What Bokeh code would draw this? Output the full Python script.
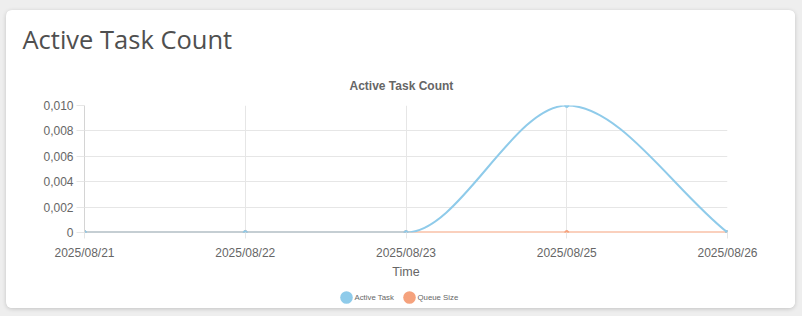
from bokeh.plotting import figure
from bokeh.models import (ColumnDataSource, FixedTicker, Range1d, Title)
from bokeh.layouts import column
from bokeh.embed import file_html
from bokeh.resources import INLINE

# ---- data ----
dates = ["2025/08/21", "2025/08/22", "2025/08/23", "2025/08/25", "2025/08/26"]
active_task = [0, 0, 0, 0.01, 0]
queue_size = [0, 0, 0, 0, 0]
y_ticks = [0, 0.002, 0.004, 0.006, 0.008, 0.010]
y_tick_labels = ["0", "0,002", "0,004", "0,006", "0,008", "0,010"]
page_title = "Active Task Count"
chart_title = "Active Task Count"
x_title = "Time"
series_names = ["Active Task", "Queue Size"]
colors = ["#8fcbea", "#f5a27d"]

FONT = "Liberation Sans"
GRID = "#e6e6e6"
TXT = "#666666"


def monotone_segments(ys):
    """Bezier control points for a monotone cubic curve (chart.js style)."""
    xs = list(range(len(ys)))
    n = len(ys)
    d = [(ys[i + 1] - ys[i]) / (xs[i + 1] - xs[i]) for i in range(n - 1)]
    m = [0.0] * n
    m[0] = d[0]
    m[-1] = d[-1]
    for i in range(1, n - 1):
        m[i] = 0.0 if d[i - 1] * d[i] <= 0 else (d[i - 1] + d[i]) / 2
    for i in range(n - 1):
        if d[i] == 0:
            m[i] = 0.0
            m[i + 1] = 0.0
            continue
        a = m[i] / d[i]
        b = m[i + 1] / d[i]
        s = a * a + b * b
        if s > 9:
            t = 3 / s ** 0.5
            m[i] = a * t * d[i]
            m[i + 1] = b * t * d[i]
    seg = dict(x0=[], y0=[], x1=[], y1=[], cx0=[], cy0=[], cx1=[], cy1=[])
    for i in range(n - 1):
        dx = (xs[i + 1] - xs[i]) / 3
        seg["x0"].append(xs[i]); seg["y0"].append(ys[i])
        seg["x1"].append(xs[i + 1]); seg["y1"].append(ys[i + 1])
        seg["cx0"].append(xs[i] + dx); seg["cy0"].append(ys[i] + m[i] * dx)
        seg["cx1"].append(xs[i + 1] - dx); seg["cy1"].append(ys[i + 1] - m[i + 1] * dx)
    return seg


W = 789
LEG_H = 26
H = 298 - LEG_H
BL, BR = 78, 68
p = figure(width=W, height=H, output_backend="svg", toolbar_location=None, title=None,
           x_range=Range1d(0, len(dates) - 1), y_range=Range1d(0, 0.010),
           min_border_left=BL, min_border_right=BR, min_border_top=95, min_border_bottom=H - 222,
           background_fill_color="white", border_fill_color="white", outline_line_color=None)

# titles (first added sits nearest the plot)
p.add_layout(Title(text=chart_title, text_font=FONT, text_font_size="12px", text_font_style="bold",
                   text_color=TXT, align="left", offset=265, standoff=25), "above")
p.add_layout(Title(text=page_title, text_font="Open Sans", text_font_size="25.5px",
                   text_font_style="normal", text_color="#4f4f4f", align="left",
                   offset=-62, standoff=18), "above")

# axes
p.xaxis.ticker = FixedTicker(ticks=list(range(len(dates))))
p.xaxis.major_label_overrides = {i: d for i, d in enumerate(dates)}
p.yaxis.ticker = FixedTicker(ticks=y_ticks)
p.yaxis.major_label_overrides = {t: l for t, l in zip(y_ticks, y_tick_labels)}
for ax in (p.xaxis[0], p.yaxis[0]):
    ax.major_label_text_font = FONT
    ax.major_label_text_font_size = "12px"
    ax.major_label_text_color = TXT
    ax.axis_line_color = "#d4d4d4"
    ax.major_tick_line_color = GRID
    ax.minor_tick_line_color = None
    ax.major_tick_in = 0
p.xaxis.axis_line_color = None  # the zero line is covered by the series lines
p.yaxis.major_tick_out = 8
p.yaxis.major_label_standoff = 3
p.xaxis.major_tick_out = 6
p.xaxis.major_label_standoff = 7
p.xaxis.axis_label = x_title
p.xaxis.axis_label_text_font = FONT
p.xaxis.axis_label_text_font_size = "12.5px"
p.xaxis.axis_label_text_font_style = "normal"
p.xaxis.axis_label_text_color = TXT
p.xaxis.axis_label_standoff = 2
p.grid.grid_line_color = GRID

# series
for ys, col in ((queue_size, colors[1]), (active_task, colors[0])):
    src = ColumnDataSource(monotone_segments(ys))
    p.bezier(x0="x0", y0="y0", x1="x1", y1="y1", cx0="cx0", cy0="cy0", cx1="cx1", cy1="cy1",
             source=src, line_color=col, line_width=2)
    p.scatter(list(range(len(ys))), ys, size=4, fill_color=col, line_color=col)

# legend strip (separate small plot; its frame is aligned with the main frame,
# so its x range is expressed in the card's pixel coordinates)
pl = figure(width=W, height=LEG_H, output_backend="svg", toolbar_location=None, title=None,
            x_range=Range1d(BL, W - BR), y_range=Range1d(0, LEG_H),
            x_axis_location=None, y_axis_location=None,
            min_border_left=0, min_border_right=0, min_border_top=0, min_border_bottom=0,
            background_fill_color="white", border_fill_color="white", outline_line_color=None)
pl.grid.visible = False
LEG_X0, LEG_STEP, LEG_Y = 340, 63, 11
leg_src = ColumnDataSource(dict(
    x=[LEG_X0 + i * LEG_STEP for i in range(len(series_names))],
    tx=[LEG_X0 + 8 + i * LEG_STEP for i in range(len(series_names))],
    y=[LEG_Y] * len(series_names),
    name=series_names, color=colors))
pl.scatter("x", "y", source=leg_src, size=12.6, fill_color="color", line_color=None)
pl.text("tx", "y", text="name", source=leg_src, text_font_size="7.8px", text_color=TXT,
        text_baseline="middle", text_align="left", text_font={"value": FONT})

card = column(p, pl, styles={"background-color": "white", "border-radius": "6px",
                             "box-shadow": "0 1px 4px rgba(0,0,0,0.18)", "overflow": "hidden"})
layout = column(card, styles={"background-color": "#eeeeee", "padding": "10px 7px 8px 6px"})

open("out.html", "w").write(file_html(layout, INLINE))
